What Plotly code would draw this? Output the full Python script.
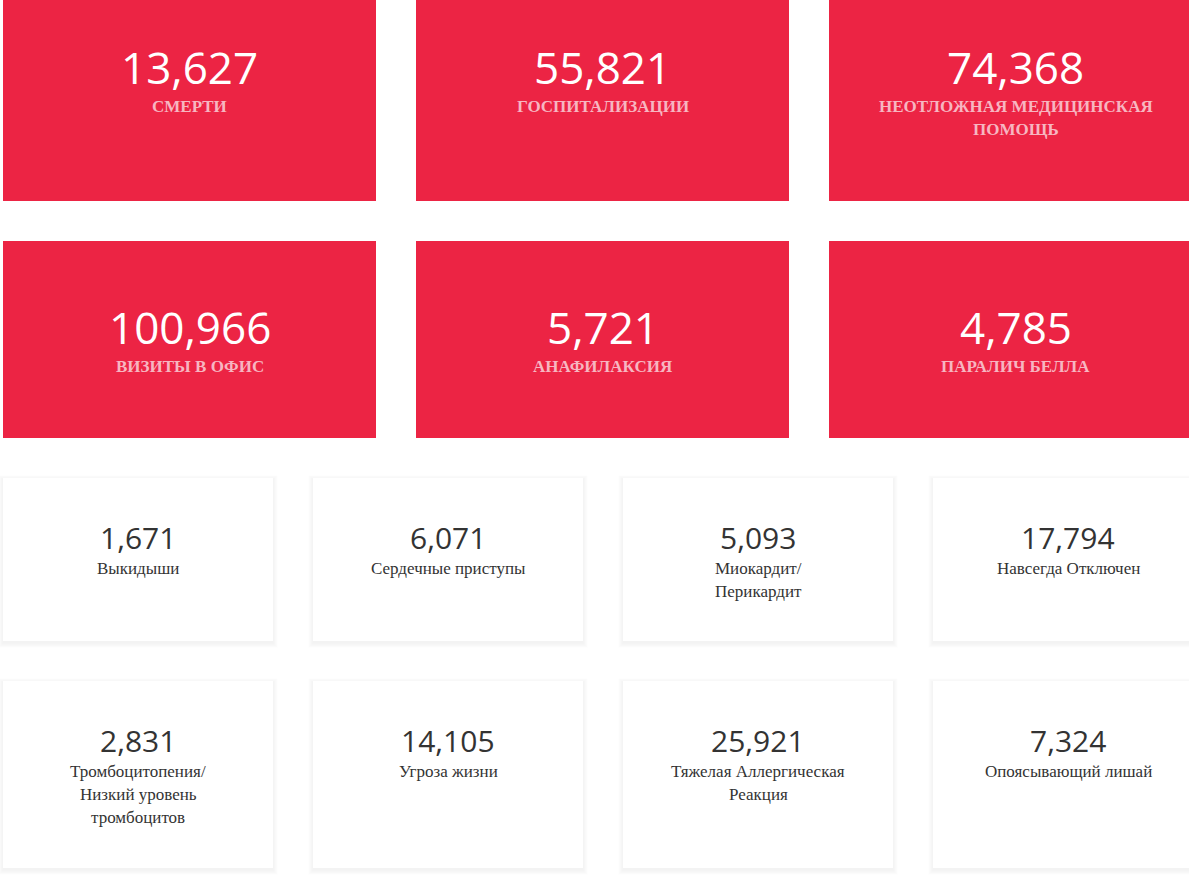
import plotly.graph_objects as go

# ---- data ----
top_values = [13627, 55821, 74368, 100966, 5721, 4785]
top_labels = ["СМЕРТИ", "ГОСПИТАЛИЗАЦИИ", "НЕОТЛОЖНАЯ МЕДИЦИНСКАЯ<br>ПОМОЩЬ",
              "ВИЗИТЫ В ОФИС", "АНАФИЛАКСИЯ", "ПАРАЛИЧ БЕЛЛА"]
bottom_values = [1671, 6071, 5093, 17794, 2831, 14105, 25921, 7324]
bottom_labels = ["Выкидыши", "Сердечные приступы", "Миокардит/<br>Перикардит",
                 "Навсегда Отключен", "Тромбоцитопения/<br>Низкий уровень<br>тромбоцитов",
                 "Угроза жизни", "Тяжелая Аллергическая<br>Реакция", "Опоясывающий лишай"]

W, H = 1189, 885
RED = "#EC2444"
PINK = "#F7B6C1"
DARK = "#333333"
NUM_FONT = "Open Sans"
LBL_FONT = "Liberation Serif"

shapes, annos = [], []

def card_text(cx, num_y, lbl_y, value, label, num_size, num_color, lbl_size, lbl_color, bold):
    annos.append(dict(x=cx, y=num_y, text=f"{value:,}", showarrow=False,
                      xanchor="center", yanchor="middle",
                      font=dict(family=NUM_FONT, size=num_size, color=num_color, weight=500)))
    for i, line in enumerate(label.split("<br>")):
        txt = f"<b>{line}</b>" if bold else line
        annos.append(dict(x=cx, y=lbl_y + i * 23, text=txt, showarrow=False,
                          xanchor="center", yanchor="middle",
                          font=dict(family=LBL_FONT, size=lbl_size, color=lbl_color)))

# red cards: 3 columns, 2 rows
red_x0, red_w, red_gap = 3, 373, 40
red_rows = [(0, 201), (241, 197)]
for k, (v, lab) in enumerate(zip(top_values, top_labels)):
    r, c = divmod(k, 3)
    x0 = red_x0 + c * (red_w + red_gap)
    y0, h = red_rows[r]
    shapes.append(dict(type="rect", xref="x", yref="y", x0=x0, x1=x0 + red_w, y0=y0, y1=y0 + h,
                       fillcolor=RED, line=dict(width=0), layer="below"))
    cx = x0 + red_w / 2
    num_y = y0 + (67 if r == 0 else 86)
    card_text(cx, num_y, num_y + 39, v, lab, 44, "white", 17, PINK, True)

# white cards: 4 columns, 2 rows
wh_x0, wh_w, wh_gap = 3, 270, 40
wh_rows = [(478, 163), (681, 187)]
for k, (v, lab) in enumerate(zip(bottom_values, bottom_labels)):
    r, c = divmod(k, 4)
    x0 = wh_x0 + c * (wh_w + wh_gap)
    y0, h = wh_rows[r]
    # soft shadow (biased downward)
    for s in range(6, 0, -1):
        shapes.append(dict(type="rect", xref="x", yref="y", x0=x0 - s * 0.8, x1=x0 + wh_w + s * 0.8,
                           y0=y0 - s * 0.6 + 1, y1=y0 + h + s * 0.8 + 2,
                           fillcolor="rgba(0,0,0,0.006)", line=dict(width=0), layer="below"))
    shapes.append(dict(type="rect", xref="x", yref="y", x0=x0, x1=x0 + wh_w, y0=y0, y1=y0 + h,
                       fillcolor="white", line=dict(width=0), layer="below"))
    cx = x0 + wh_w / 2
    num_y = y0 + 59
    card_text(cx, num_y, num_y + 31, v, lab, 30, DARK, 17, DARK, False)

fig = go.Figure()
fig.update_layout(
    width=W, height=H, margin=dict(l=0, r=0, t=0, b=0),
    paper_bgcolor="white", plot_bgcolor="white",
    xaxis=dict(range=[0, W], visible=False, fixedrange=True),
    yaxis=dict(range=[H, 0], visible=False, fixedrange=True),
    shapes=shapes, annotations=annos, showlegend=False,
)
fig.write_html("out.html", config={"displayModeBar": False},
               post_script="document.body.style.margin='0';document.body.style.overflow='hidden';")
